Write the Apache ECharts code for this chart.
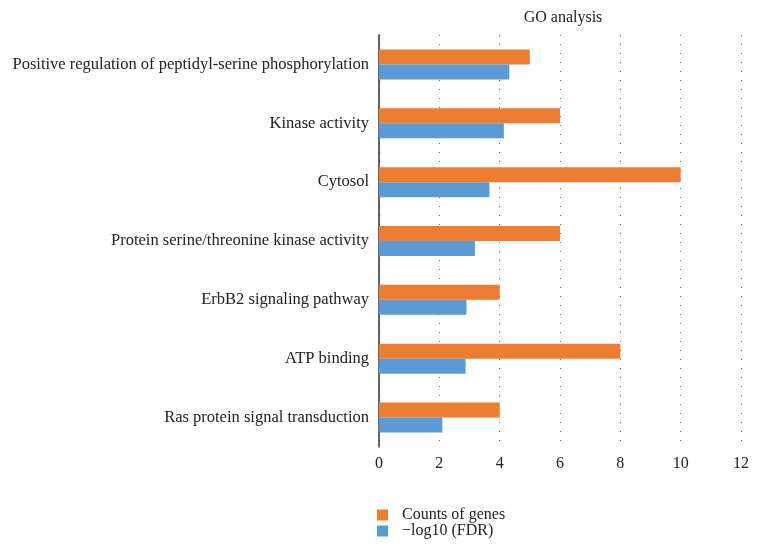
<!DOCTYPE html>
<html><head><meta charset="utf-8">
<script src="https://cdn.jsdelivr.net/npm/echarts@6/dist/echarts.min.js"></script>
<style>html,body{margin:0;padding:0;background:#fff}#c{width:758px;height:553px}</style>
</head><body><div id="c"></div>
<script>
const categories = [
  "Positive regulation of peptidyl-serine phosphorylation",
  "Kinase activity",
  "Cytosol",
  "Protein serine/threonine kinase activity",
  "ErbB2 signaling pathway",
  "ATP binding",
  "Ras protein signal transduction"
];
const counts = [5, 6, 10, 6, 4, 8, 4];
const logFDR = [4.32, 4.14, 3.66, 3.18, 2.9, 2.87, 2.1];
const seriesNames = ["Counts of genes", "\u2212log10 (FDR)"];
const xTicks = [0, 2, 4, 6, 8, 10, 12];

const font = "Liberation Serif";
const chart = echarts.init(document.getElementById('c'));
chart.setOption({
  animation: false,
  textStyle: {fontFamily: font},
  title: {text: "GO analysis", left: 558, top: 5, textAlign: 'center',
    textStyle: {fontFamily: font, fontSize: 16, fontWeight: 'normal', color: '#222'}},
  legend: {orient: 'vertical', left: 372, top: 502, itemWidth: 11, itemHeight: 11, itemGap: 0,
    icon: 'rect', textStyle: {fontFamily: font, fontSize: 16, color: '#222', padding: [0, 0, 0, 9]}},
  grid: {left: 379, right: 17, top: 35, bottom: 106, containLabel: false},
  xAxis: {type: 'value', min: 0, max: 12, interval: 2,
    axisLine: {show: false}, axisTick: {show: false},
    axisLabel: {fontFamily: font, fontSize: 16, color: '#222', margin: 9,
      formatter: v => xTicks.includes(v) ? String(v) : ''},
    splitLine: {show: true, lineStyle: {type: [1, 8], color: '#666', width: 1}}},
  yAxis: {type: 'category', data: categories, inverse: true,
    axisLine: {show: true, lineStyle: {color: '#333', width: 1.5}},
    axisTick: {show: false},
    axisLabel: {fontFamily: font, fontSize: 16.5, color: '#222', margin: 10}},
  series: [
    {name: seriesNames[0], type: 'bar', data: counts, barWidth: 15, barGap: '0%',
      itemStyle: {color: '#ED7D31'}},
    {name: seriesNames[1], type: 'bar', data: logFDR, barWidth: 15, barGap: '0%',
      itemStyle: {color: '#5B9BD5'}}
  ]
});
</script></body></html>
